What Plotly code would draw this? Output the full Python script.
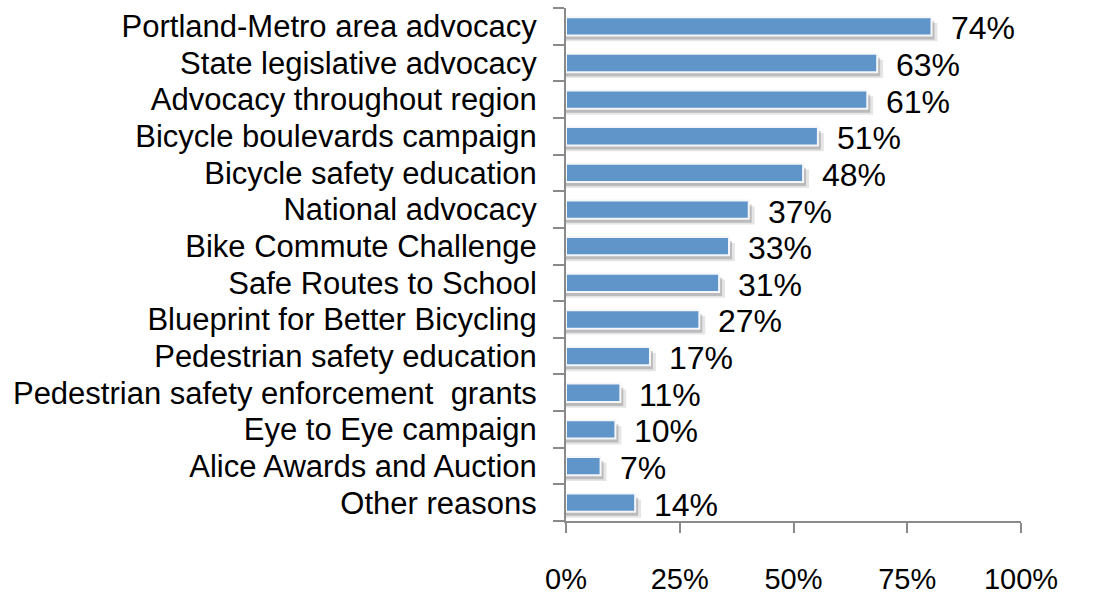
"""
Reasons for supporting the organisation - horizontal bar chart.
"""

import plotly.graph_objects as go

# categories, top to bottom
REASONS = [
    "Portland-Metro area advocacy",
    "State legislative advocacy",
    "Advocacy throughout region",
    "Bicycle boulevards campaign",
    "Bicycle safety education",
    "National advocacy",
    "Bike Commute Challenge",
    "Safe Routes to School",
    "Blueprint for Better Bicycling",
    "Pedestrian safety education",
    "Pedestrian safety enforcement  grants",
    "Eye to Eye campaign",
    "Alice Awards and Auction",
    "Other reasons",
]
SHARE = [74, 63, 61, 51, 48, 37, 33, 31, 27, 17, 11, 10, 7, 14]

# the original axis labels do not line up with the bar scale: 100% sits at ~92
TICK_POS = [0, 23.03, 46.06, 69.09, 92.12]
TICK_TEXT = ["0%", "25%", "50%", "75%", "100%"]

BAR_COLOR = "#5f95c9"
AXIS_COLOR = "#8a8a8a"
FONT = "Liberation Sans, Arial, sans-serif"

fig = go.Figure()

# soft drop shadow: two grey layers shifted down/right under each bar
for grow, shift, alpha in [(1.2, 0.16, 0.10), (0.6, 0.11, 0.18)]:
    fig.add_trace(go.Bar(
        x=[v + grow for v in SHARE],
        y=REASONS,
        orientation="h",
        width=0.5,
        offset=-0.25 + shift,
        marker=dict(color=f"rgba(0,0,0,{alpha})", line=dict(width=0)),
        hoverinfo="skip",
    ))

fig.add_trace(go.Bar(
    x=SHARE,
    y=REASONS,
    orientation="h",
    width=0.5,
    offset=-0.25,
    marker=dict(color=BAR_COLOR, line=dict(color="#f4f6fa", width=2)),
    hovertemplate="%{y}: %{x}%<extra></extra>",
))

# value labels to the right of each bar
for reason, v in zip(REASONS, SHARE):
    fig.add_annotation(
        x=v, y=reason, text=f"{v}%", showarrow=False,
        xanchor="left", yanchor="middle", xshift=17, yshift=-2,
        font=dict(family=FONT, size=32, color="black"),
    )

fig.update_layout(
    barmode="overlay",
    showlegend=False,
    plot_bgcolor="white",
    paper_bgcolor="white",
    width=1101,
    height=596,
    margin=dict(l=566, r=80, t=8, b=75, autoexpand=False),
    xaxis=dict(
        range=[0, TICK_POS[-1]],
        tickmode="array",
        tickvals=TICK_POS,
        ticktext=TICK_TEXT,
        automargin=False,
        showgrid=False,
        zeroline=False,
        showline=True,
        linecolor=AXIS_COLOR,
        linewidth=2,
        ticks="outside",
        ticklen=10,
        tickwidth=2,
        tickcolor=AXIS_COLOR,
        ticklabelstandoff=21,
        tickfont=dict(family=FONT, size=29, color="black"),
    ),
    yaxis=dict(
        type="category",
        range=[len(REASONS) - 0.5, -0.5],
        tickmode="array",
        tickvals=REASONS,
        ticktext=REASONS,
        automargin=False,
        showgrid=False,
        zeroline=False,
        showline=True,
        linecolor=AXIS_COLOR,
        linewidth=2,
        ticks="outside",
        tickson="boundaries",
        ticklen=11,
        tickwidth=2,
        tickcolor=AXIS_COLOR,
        ticklabelstandoff=21,
        tickfont=dict(family=FONT, size=31, color="black"),
    ),
)

# drop the browser's default 8px body margin so the figure fills the window
fig.write_html(
    "out.html",
    config={"displayModeBar": False},
    post_script="document.body.style.margin='0';",
)
